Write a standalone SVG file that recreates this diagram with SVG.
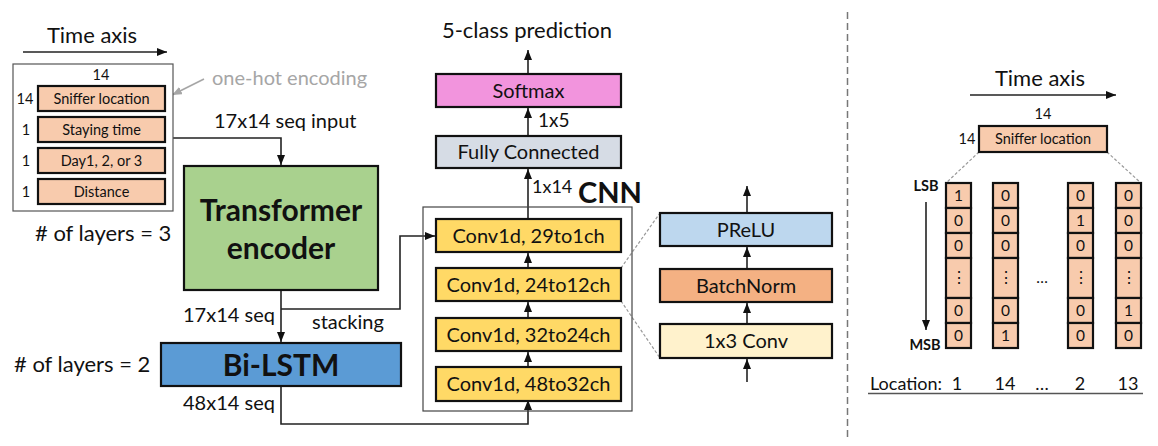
<svg xmlns="http://www.w3.org/2000/svg" width="1158" height="446" viewBox="0 0 1158 446">
<style>
text{font-family:Lato,"Liberation Sans",sans-serif;fill:#111}
.big{font-size:22px}
.lbl{font-size:20px}
.mid{font-size:18px}
.sm{font-size:14.5px}
.cell{font-size:15.5px}
.c{text-anchor:middle}
.bold{font-weight:bold}
.hb{font-size:30px;font-weight:bold;text-anchor:middle}
.box{stroke:#111;stroke-width:2.2}
.conn{fill:none;stroke:#222;stroke-width:1.6}
.dash{fill:none;stroke:#999;stroke-width:1.2;stroke-dasharray:3 2}
.peach{fill:#F8CBAD}
.conv{fill:#FFD966}
.gray{fill:#A6A6A6}
</style>
<defs>
<marker id="ah" markerUnits="userSpaceOnUse" markerWidth="10" markerHeight="8" viewBox="0 0 10 8" refX="10" refY="4" orient="auto"><path d="M0,0 L10,4 L0,8 z" fill="#111"/></marker>
<marker id="ahg" markerUnits="userSpaceOnUse" markerWidth="10" markerHeight="8" viewBox="0 0 10 8" refX="10" refY="4" orient="auto"><path d="M0,0 L10,4 L0,8 z" fill="#A6A6A6"/></marker>
</defs>
<rect width="1158" height="446" fill="#fff"/>

<!-- connectors -->
<g id="connectors">
<path class="conn" d="M23,52 H167" marker-end="url(#ah)"/>
<path d="M204,79 L172,95" fill="none" stroke="#A6A6A6" stroke-width="1.6" marker-end="url(#ahg)"/>
<path class="conn" d="M173,138 H281 V165" marker-end="url(#ah)"/>
<path class="conn" d="M281,290 V342" marker-end="url(#ah)"/>
<path class="conn" d="M281,309 H400 V236 H435" marker-end="url(#ah)"/>
<path class="conn" d="M281,386 V424 H528 V400" marker-end="url(#ah)"/>
<path class="conn" d="M528,74 V50" marker-end="url(#ah)"/>
<path class="conn" d="M528,136 V108" marker-end="url(#ah)"/>
<path class="conn" d="M528,219 V169" marker-end="url(#ah)"/>
<path class="conn" d="M528,268 V253" marker-end="url(#ah)"/>
<path class="conn" d="M528,318 V302" marker-end="url(#ah)"/>
<path class="conn" d="M528,367 V352" marker-end="url(#ah)"/>
<path class="conn" d="M747,382 V359" marker-end="url(#ah)"/>
<path class="conn" d="M747,324 V303" marker-end="url(#ah)"/>
<path class="conn" d="M747,269 V247" marker-end="url(#ah)"/>
<path class="conn" d="M747,213 V186" marker-end="url(#ah)"/>
<path class="dash" d="M621,268 L660,213 M621,301 L660,358"/>
<path class="conn" d="M970,95 H1116" marker-end="url(#ah)"/>
<path class="dash" d="M979,152 L946,183 M1107,152 L1141,183"/>
<path class="conn" d="M926,202 V330" marker-end="url(#ah)"/>
<path d="M847.5,12 V438" fill="none" stroke="#777" stroke-width="1.5" stroke-dasharray="7 4"/>
<path d="M868,393.5 H1143" fill="none" stroke="#555" stroke-width="1.5"/>
</g>

<!-- left input panel -->
<g id="input-panel">
<text class="big c" x="92" y="43">Time axis</text>
<rect x="13" y="64" width="160" height="147" fill="#fff" stroke="#555" stroke-width="1.2"/>
<text class="sm c" x="101" y="80">14</text>
</g>
<g id="sniffer">
<rect class="box peach" x="38" y="86" width="127" height="25"/>
<text class="sm c" x="101.5" y="104">Sniffer location</text>
<text class="sm c" x="25" y="104">14</text>
</g>
<g id="staying">
<rect class="box peach" x="38" y="117" width="127" height="25"/>
<text class="sm c" x="101.5" y="135">Staying time</text>
<text class="sm c" x="26" y="135">1</text>
</g>
<g id="day">
<rect class="box peach" x="38" y="148" width="127" height="25"/>
<text class="sm c" x="101.5" y="166">Day1, 2, or 3</text>
<text class="sm c" x="26" y="166">1</text>
</g>
<g id="distance">
<rect class="box peach" x="38" y="179" width="127" height="25"/>
<text class="sm c" x="101.5" y="197">Distance</text>
<text class="sm c" x="26" y="197">1</text>
</g>
<g id="labels-left">
<text class="lbl gray" x="212" y="85">one-hot encoding</text>
<text class="lbl" x="214" y="128">17x14 seq input</text>
<text class="big" x="35" y="241"># of layers = 3</text>
<text class="lbl" x="183" y="322">17x14 seq</text>
<text class="lbl" x="312" y="329">stacking</text>
<text class="big" x="14" y="372"># of layers = 2</text>
<text class="lbl" x="183" y="410">48x14 seq</text>
</g>

<g id="transformer">
<rect class="box" x="184" y="166" width="194" height="124" fill="#A9D18E"/>
<text class="hb" x="281" y="221">Transformer</text>
<text class="hb" x="281" y="259">encoder</text>
</g>
<g id="bilstm">
<rect class="box" x="161" y="343" width="240" height="43" fill="#5B9BD5"/>
<text class="hb" x="281" y="376">Bi-LSTM</text>
</g>

<!-- middle -->
<g id="prediction">
<text class="big c" x="527" y="38">5-class prediction</text>
</g>
<g id="softmax">
<rect class="box" x="436" y="74" width="185" height="33" fill="#F294DD"/>
<text class="lbl c" x="528.5" y="97.5">Softmax</text>
</g>
<g id="fc">
<rect class="box" x="436" y="136" width="185" height="32" fill="#D6DCE5"/>
<text class="lbl c" x="528.5" y="159">Fully Connected</text>
</g>
<g id="mid-labels">
<text class="lbl" x="538" y="127" style="font-size:19px">1x5</text>
<text class="lbl" x="532" y="193" style="font-size:18px">1x14</text>
</g>
<g id="cnn">
<rect x="423" y="207" width="209" height="204" fill="none" stroke="#444" stroke-width="1.2"/>
<text class="bold" x="578" y="203" style="font-size:29px">CNN</text>
</g>
<g id="conv1">
<rect class="box conv" x="436" y="219" width="185" height="33"/>
<text class="lbl c" x="528.5" y="242.5">Conv1d, 29to1ch</text>
</g>
<g id="conv2">
<rect class="box conv" x="436" y="268" width="185" height="33"/>
<text class="lbl c" x="528.5" y="291.5">Conv1d, 24to12ch</text>
</g>
<g id="conv3">
<rect class="box conv" x="436" y="318" width="185" height="33"/>
<text class="lbl c" x="528.5" y="341.5">Conv1d, 32to24ch</text>
</g>
<g id="conv4">
<rect class="box conv" x="436" y="367" width="185" height="34"/>
<text class="lbl c" x="528.5" y="391">Conv1d, 48to32ch</text>
</g>

<!-- expansion -->
<g id="prelu">
<rect class="box" x="660" y="213" width="172" height="33" fill="#BDD7EE"/>
<text class="lbl c" x="746" y="236.5">PReLU</text>
</g>
<g id="batchnorm">
<rect class="box" x="660" y="269" width="172" height="33" fill="#F4B183"/>
<text class="lbl c" x="746" y="292.5">BatchNorm</text>
</g>
<g id="conv1x3">
<rect class="box" x="660" y="324" width="172" height="34" fill="#FFF2CC"/>
<text class="lbl c" x="746" y="348">1x3 Conv</text>
</g>

<!-- right panel -->
<g id="right-header">
<text class="big c" x="1040" y="86">Time axis</text>
<text class="sm c" x="1043" y="119">14</text>
</g>
<g id="sniffer-right">
<rect class="box peach" x="979" y="126" width="128" height="26"/>
<text class="sm c" x="1043" y="144">Sniffer location</text>
<text class="sm c" x="967" y="144">14</text>
</g>
<g id="col1">
<rect class="box peach" x="946" y="183" width="25" height="25"/><rect class="box peach" x="946" y="208" width="25" height="25"/><rect class="box peach" x="946" y="233" width="25" height="25"/><rect class="box peach" x="946" y="258" width="25" height="40"/><rect class="box peach" x="946" y="298" width="25" height="25"/><rect class="box peach" x="946" y="323" width="25" height="25"/>
<text class="cell c" x="958.5" y="201">1</text><text class="cell c" x="958.5" y="226">0</text><text class="cell c" x="958.5" y="251">0</text><text class="cell c" x="958.5" y="283">⋮</text><text class="cell c" x="958.5" y="316">0</text><text class="cell c" x="958.5" y="341">0</text>
</g>
<g id="col2">
<rect class="box peach" x="993" y="183" width="25" height="25"/><rect class="box peach" x="993" y="208" width="25" height="25"/><rect class="box peach" x="993" y="233" width="25" height="25"/><rect class="box peach" x="993" y="258" width="25" height="40"/><rect class="box peach" x="993" y="298" width="25" height="25"/><rect class="box peach" x="993" y="323" width="25" height="25"/>
<text class="cell c" x="1005.5" y="201">0</text><text class="cell c" x="1005.5" y="226">0</text><text class="cell c" x="1005.5" y="251">0</text><text class="cell c" x="1005.5" y="283">⋮</text><text class="cell c" x="1005.5" y="316">0</text><text class="cell c" x="1005.5" y="341">1</text>
</g>
<g id="col3">
<rect class="box peach" x="1068" y="183" width="25" height="25"/><rect class="box peach" x="1068" y="208" width="25" height="25"/><rect class="box peach" x="1068" y="233" width="25" height="25"/><rect class="box peach" x="1068" y="258" width="25" height="40"/><rect class="box peach" x="1068" y="298" width="25" height="25"/><rect class="box peach" x="1068" y="323" width="25" height="25"/>
<text class="cell c" x="1080.5" y="201">0</text><text class="cell c" x="1080.5" y="226">1</text><text class="cell c" x="1080.5" y="251">0</text><text class="cell c" x="1080.5" y="283">⋮</text><text class="cell c" x="1080.5" y="316">0</text><text class="cell c" x="1080.5" y="341">0</text>
</g>
<g id="col4">
<rect class="box peach" x="1116" y="183" width="25" height="25"/><rect class="box peach" x="1116" y="208" width="25" height="25"/><rect class="box peach" x="1116" y="233" width="25" height="25"/><rect class="box peach" x="1116" y="258" width="25" height="40"/><rect class="box peach" x="1116" y="298" width="25" height="25"/><rect class="box peach" x="1116" y="323" width="25" height="25"/>
<text class="cell c" x="1128.5" y="201">0</text><text class="cell c" x="1128.5" y="226">0</text><text class="cell c" x="1128.5" y="251">0</text><text class="cell c" x="1128.5" y="283">⋮</text><text class="cell c" x="1128.5" y="316">1</text><text class="cell c" x="1128.5" y="341">0</text>
</g>
<g id="right-labels">
<text class="cell c" x="1042" y="283">…</text>
<text class="sm c bold" x="926" y="191">LSB</text>
<text class="sm c bold" x="925" y="350">MSB</text>
<text class="mid" x="870" y="390">Location:</text>
<text class="mid c" x="957" y="390">1</text>
<text class="mid c" x="1005" y="390">14</text>
<text class="mid c" x="1042" y="390">…</text>
<text class="mid c" x="1080" y="390">2</text>
<text class="mid c" x="1128" y="390">13</text>
</g>
</svg>
